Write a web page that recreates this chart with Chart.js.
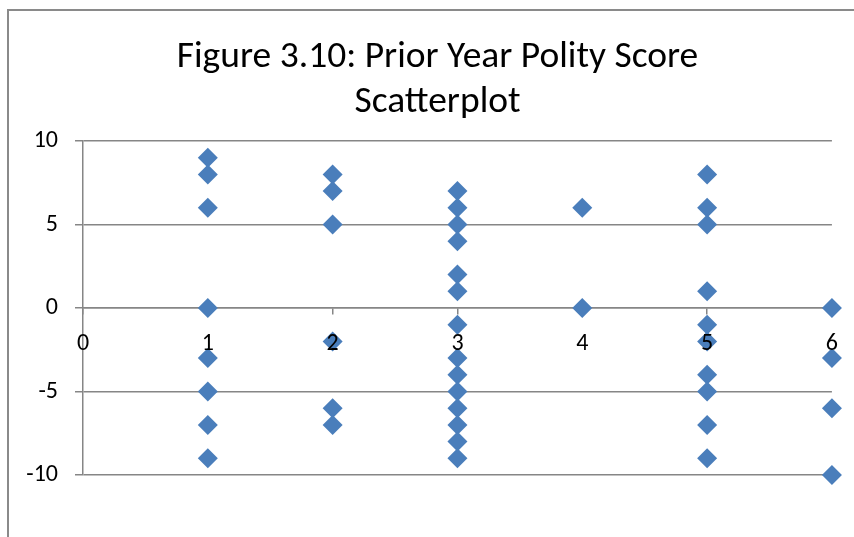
<!DOCTYPE html>
<html>
<head>
<meta charset="utf-8">
<script src="https://cdn.jsdelivr.net/npm/chart.js@4.4.0/dist/chart.umd.min.js"></script>
<style>
	html, body { margin: 0; padding: 0; background: #fff; }
	#wrap { position: relative; width: 854px; height: 537px; overflow: hidden; }
	#frame { position: absolute; left: 7px; top: 9px; width: 900px; height: 600px;
		border-left: 2px solid #8a8a8a; border-top: 2px solid #8a8a8a; }
	canvas { position: absolute; left: 0; top: 0; }
</style>
</head>
<body>
<div id="wrap">
	<div id="frame"></div>
	<canvas id="scatterChart" width="854" height="537"></canvas>
</div>
<script>
// prior year polity score, grouped by x category
var xCategories = [1, 2, 3, 4, 5, 6];
var scoresAt1 = [9, 8, 6, 0, -3, -5, -7, -9];
var scoresAt2 = [8, 7, 5, -2, -6, -7];
var scoresAt3 = [7, 6, 5, 4, 2, 1, -1, -3, -4, -5, -6, -7, -8, -9];
var scoresAt4 = [6, 0];
var scoresAt5 = [8, 6, 5, 1, -1, -2, -4, -5, -7, -9];
var scoresAt6 = [0, -3, -6, -10];
var xTicks = [0, 1, 2, 3, 4, 5, 6];
var yTicks = [-10, -5, 0, 5, 10];

var groups = [scoresAt1, scoresAt2, scoresAt3, scoresAt4, scoresAt5, scoresAt6];
var points = [];
groups.forEach(function(list, i) {
	list.forEach(function(v) {
		points.push({ x: xCategories[i], y: v });
	});
});

var gridGray = "#868686";
var fontFamily = "Carlito, Lato, 'Open Sans', sans-serif";

var ctx = document.getElementById("scatterChart").getContext('2d');
var myChart = new Chart(ctx, {
	type: 'scatter',
	data: {
		datasets: [{
			label: 'Polity score',
			data: points,
			pointStyle: 'rectRot',
			pointRadius: 10,
			pointHoverRadius: 10,
			backgroundColor: "#4a7ebb",
			borderColor: "#4a7ebb",
			borderWidth: 0,
			clip: false
		}]
	},
	options: {
		responsive: false,
		animation: false,
		// left padding pushes the title centre right, the blank right axis keeps the plot edge
		layout: { padding: { left: 21, right: 0, top: 0, bottom: 62 } },
		plugins: {
			legend: { display: false },
			tooltip: { enabled: false },
			title: {
				display: true,
				text: ['Figure 3.10: Prior Year Polity Score', 'Scatterplot'],
				color: '#000',
				font: { family: fontFamily, size: 37.5, weight: 'normal', lineHeight: 1.2 },
				padding: { top: 35, bottom: 16 }
			}
		},
		scales: {
			x: {
				type: 'linear',
				position: { y: 0 },
				min: xTicks[0],
				max: xTicks[xTicks.length - 1],
				afterBuildTicks: function(scale) {
					scale.ticks = xTicks.map(function(v) { return { value: v }; });
				},
				grid: {
					display: true,
					drawOnChartArea: false,
					drawTicks: true,
					tickLength: 6,
					color: gridGray,
					lineWidth: 1.5
				},
				border: { display: true, color: gridGray, width: 1.5 },
				ticks: {
					z: 1,
					color: '#000',
					padding: 16,
					maxRotation: 0,
					font: { family: fontFamily, size: 24 }
				}
			},
			y: {
				type: 'linear',
				min: yTicks[0],
				max: yTicks[yTicks.length - 1],
				afterBuildTicks: function(scale) {
					scale.ticks = yTicks.map(function(v) { return { value: v }; });
				},
				afterFit: function(scale) {
					scale.width = 62;
				},
				grid: {
					color: gridGray,
					lineWidth: 1.5,
					tickLength: 8
				},
				border: { display: true, color: gridGray, width: 1.5 },
				ticks: {
					color: '#000',
					padding: 17,
					font: { family: fontFamily, size: 24 }
				}
			},
			yRight: {
				type: 'linear',
				position: 'right',
				min: yTicks[0],
				max: yTicks[yTicks.length - 1],
				afterFit: function(scale) {
					scale.width = 21;
				},
				grid: { display: false },
				border: { display: false },
				ticks: { display: false }
			}
		}
	}
});
</script>
</body>
</html>
